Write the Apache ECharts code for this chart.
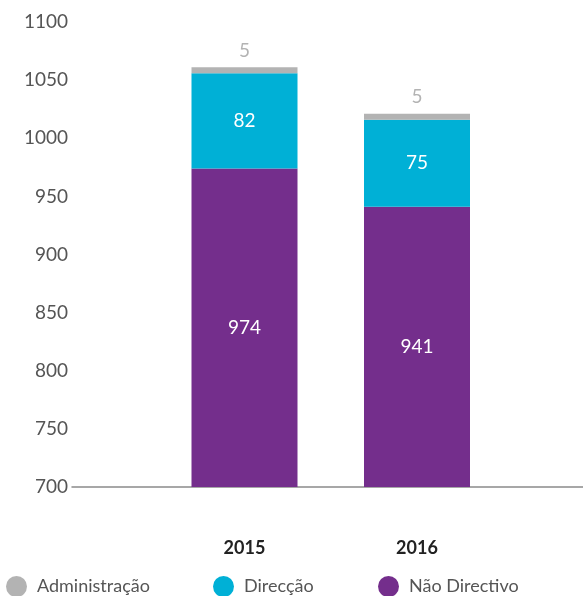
<!DOCTYPE html>
<html><head><meta charset="utf-8">
<script src="https://cdn.jsdelivr.net/npm/echarts@6/dist/echarts.min.js"></script>
<style>html,body{margin:0;padding:0;background:#fff}#c{width:583px;height:596px}</style>
</head><body><div id="c"></div>
<script>
const categories = ['', '2015', '2016', ''];
const naoDirectivo = [null, 974, 941, null];
const direccao = [null, 82, 75, null];
const administracao = [null, 5, 5, null];
const yTicks = {min: 700, max: 1100, interval: 50};
const names = ['Administração', 'Direcção', 'Não Directivo'];
const colors = {adm: '#b3b3b3', dir: '#00b0d6', nao: '#742e8c'};

const chart = echarts.init(document.getElementById('c'));
const font = 'Lato, "Open Sans", sans-serif';
const legendBase = {
  top: 571, icon: 'circle', itemWidth: 21, itemHeight: 21,
  textStyle: {fontSize: 18, color: '#555', fontFamily: font, padding: [0,0,0,5]},
  selectedMode: false
};
chart.setOption({
  animation: false,
  grid: {left: 72, width: 517.5, top: 22, bottom: 109, containLabel: false, outerBoundsMode: 'none'},
  legend: [
    Object.assign({left: 1, data: [names[0]]}, legendBase),
    Object.assign({left: 208, data: [names[1]]}, legendBase),
    Object.assign({left: 373, data: [names[2]]}, legendBase)
  ],
  xAxis: {
    type: 'category', data: categories, boundaryGap: false,
    axisLine: {lineStyle: {color: '#8a8a8a', width: 1.5}},
    axisTick: {show: false},
    axisLabel: {margin: 52, fontSize: 18, fontWeight: 'bold', color: '#222', fontFamily: font, interval: 0}
  },
  yAxis: {
    type: 'value', min: yTicks.min, max: yTicks.max, interval: yTicks.interval,
    splitLine: {show: false}, axisLine: {show: false}, axisTick: {show: false},
    axisLabel: {margin: 4, fontSize: 19, color: '#555', fontFamily: font, formatter: v => String(v)}
  },
  series: [
    {name: names[2], type: 'bar', stack: 's', data: naoDirectivo, barWidth: 106,
     itemStyle: {color: colors.nao},
     label: {show: true, position: 'inside', color: '#fff', fontSize: 19, fontFamily: font}},
    {name: names[1], type: 'bar', stack: 's', data: direccao, barWidth: 106,
     itemStyle: {color: colors.dir},
     label: {show: true, position: 'inside', color: '#fff', fontSize: 19, fontFamily: font}},
    {name: names[0], type: 'bar', stack: 's', data: administracao, barWidth: 106,
     itemStyle: {color: colors.adm},
     label: {show: true, position: 'top', distance: 7, color: '#b3b3b3', fontSize: 19, fontFamily: font}}
  ]
});
</script></body></html>
